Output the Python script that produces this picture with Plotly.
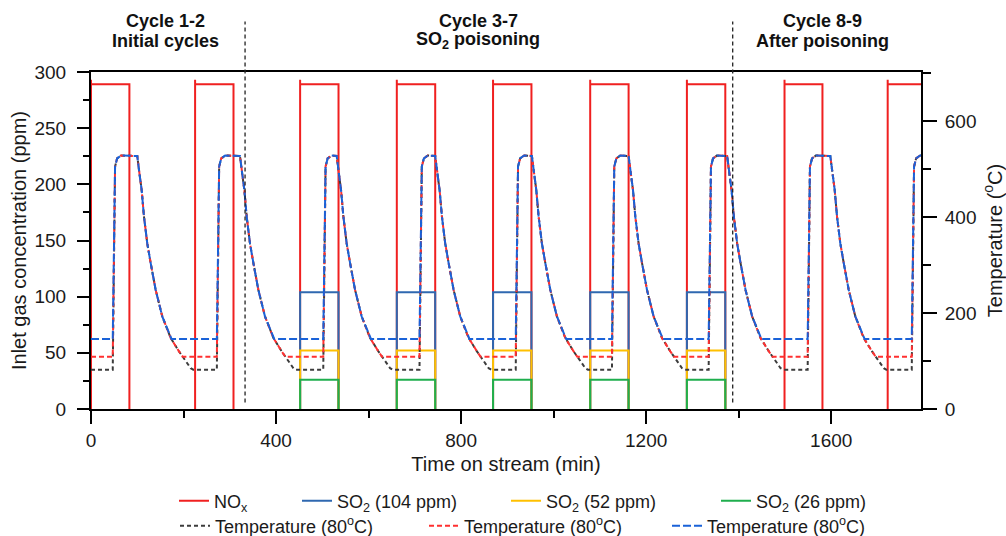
import plotly.graph_objects as go

# ---------------- data ----------------
# NOx feed (ppm): on/off times (min) of the nine cycles
nox_on = [0, 225, 452, 661, 869, 1079, 1288, 1499, 1722]
nox_off = [83, 308, 535, 744, 952, 1162, 1371, 1581, 1806]
nox_level = 289
nox_peak = 293

# SO2 feed only in cycles 3-7 (indices into the NOx cycles)
so2_cycle_idx = [2, 3, 4, 5, 6]
so2_levels = [104, 52, 26]
so2_names = ["SO<sub>2</sub> (104 ppm)", "SO<sub>2</sub> (52 ppm)", "SO<sub>2</sub> (26 ppm)"]

# Temperature programme (deg C)
temp_rise_start = [47, 272, 502, 710, 918, 1126, 1335, 1549, 1774]
temp_decay_start = [100, 322, 531, 744, 953, 1162, 1375, 1598, None]
rise_dt = [5, 9.5, 18]
rise_T = [505, 522, 528]
decay_dt = [0, 3.7, 9.5, 14.5, 21.6, 29, 39.8, 54, 72.2, 90.2, 97.3, 115.5]
decay_T = [527, 498, 456, 401, 345, 304, 248, 193, 148, 120, 110, 85]
temp_lows = [82, 109, 146]          # black, red, blue series
temp_reach = [121, 98, 74]          # min after decay start when the low is reached
time_end = 1800

# separators and section labels
sep_times = [333, 1387]
section_x = [162, 837, 1582]
section_line1 = ["Cycle 1-2", "Cycle 3-7", "Cycle 8-9"]
section_line2 = ["Initial cycles", "SO<sub>2</sub> poisoning", "After poisoning"]

x_range = [0, 1794]
y_range = [0, 300]
y2_range = [0, 702]

# ---------------- build series ----------------
def step_series(idx, level, peak=None):
    xs, ys = [], []
    for i in idx:
        a, b = nox_on[i], nox_off[i]
        xs += [a, a]
        ys += [0, peak if peak is not None else level]
        if peak is not None:
            xs.append(a); ys.append(level)
        xs += [b, b, None]
        ys += [level, 0, None]
    return xs, ys


def temp_series(low, reach):
    xs, ys = [0], [low]
    for r, d in zip(temp_rise_start, temp_decay_start):
        xs.append(r); ys.append(low)
        for dt, T in zip(rise_dt, rise_T):
            xs.append(r + dt); ys.append(T)
        if d is None:
            xs.append(time_end); ys.append(rise_T[-1])
            continue
        for dt, T in zip(decay_dt, decay_T):
            if T > low:
                xs.append(d + dt); ys.append(T)
        xs.append(d + reach); ys.append(low)
    return xs, ys


FONT = "Liberation Sans, Arial, sans-serif"
fig = go.Figure()

nx, ny = step_series(range(len(nox_on)), nox_level, nox_peak)
fig.add_trace(go.Scatter(x=nx, y=ny, mode="lines", name="NO<sub>x</sub>",
                         line=dict(color="#F02020", width=2), legend="legend",
                         showlegend=True, connectgaps=False))

so2_colors = ["#2F68B0", "#FFC000", "#1FAE4E"]
for k, (lvl, nm, col) in enumerate(zip(so2_levels, so2_names, so2_colors)):
    sx, sy = step_series(so2_cycle_idx, lvl)
    fig.add_trace(go.Scatter(x=sx, y=sy, mode="lines", name=nm, showlegend=True,
                             line=dict(color=col, width=2), legend="legend%d" % (k + 2)))

temp_colors = ["#3C3C3C", "#FF3030", "#1A62D8"]
temp_dash = ["4px,3px", "5px,3px", "8px,3px"]
for k, (low, reach, col, dsh) in enumerate(zip(temp_lows, temp_reach, temp_colors, temp_dash)):
    tx, ty = temp_series(low, reach)
    fig.add_trace(go.Scatter(x=tx, y=ty, mode="lines", yaxis="y2", showlegend=True,
                             name="Temperature (80<sup>o</sup>C)",
                             line=dict(color=col, width=2, dash=dsh),
                             legend="legend%d" % (k + 5)))

# separators
for t in sep_times:
    fig.add_shape(type="line", xref="x", yref="paper", x0=t, x1=t, y0=0.019, y1=1.15,
                  line=dict(color="#222", width=1.3, dash="4px,3px"))

for xs_, l1, l2 in zip(section_x, section_line1, section_line2):
    fig.add_annotation(x=xs_, xref="x", yref="paper", y=1.152, yanchor="middle",
                       text="<b>%s</b>" % l1,
                       showarrow=False, font=dict(family=FONT, size=18, color="#111"))
    fig.add_annotation(x=xs_, xref="x", yref="paper", y=1.093, yanchor="middle",
                       text="<b>%s</b>" % l2,
                       showarrow=False, font=dict(family=FONT, size=18, color="#111"))

axis_common = dict(showgrid=False, zeroline=False, showline=True, linecolor="black",
                   linewidth=2, ticks="outside", tickcolor="black", tickwidth=2,
                   automargin=False,
                   tickfont=dict(family=FONT, size=19, color="#1a1a1a"))

fig.update_layout(
    width=1006, height=536,
    margin=dict(l=91, r=85, t=72, b=127, autoexpand=False),
    plot_bgcolor="white", paper_bgcolor="white",
    showlegend=True,
    font=dict(family=FONT, size=18, color="#1a1a1a"),
    xaxis=dict(range=x_range, dtick=400, tick0=0, ticklen=13, mirror=True,
               minor=dict(dtick=200, ticklen=7, tickwidth=2, tickcolor="black", ticks="outside"),
               title=dict(text="Time on stream (min)", font=dict(family=FONT, size=20), standoff=7),
               **axis_common),
    yaxis=dict(range=y_range, dtick=50, ticklen=12, ticklabelstandoff=7,
               minor=dict(dtick=25, ticklen=6, tickwidth=2, tickcolor="black", ticks="outside"),
               title=dict(text="Inlet gas concentration (ppm)", font=dict(family=FONT, size=20), standoff=2),
               **axis_common),
    yaxis2=dict(range=y2_range, dtick=200, ticklen=14, overlaying="y", side="right",
                ticklabelstandoff=4,
                minor=dict(dtick=100, ticklen=8, tickwidth=2, tickcolor="black", ticks="outside"),
                title=dict(text="Temperature (<sup>o</sup>C)", font=dict(family=FONT, size=20), standoff=12),
                **axis_common),
)

# legends: one per entry to reproduce the two staggered rows
legend_text_x = [215, 338, 547, 757, 216, 465, 708]
legend_row_y = [501, 501, 501, 501, 526, 526, 526]
for k, (tx_, ty_) in enumerate(zip(legend_text_x, legend_row_y)):
    key = "legend" if k == 0 else "legend%d" % (k + 1)
    fig.update_layout({key: dict(xref="container", yref="container", visible=True,
                                 x=(tx_ - 41) / 1006, y=1 - ty_ / 536,
                                 xanchor="left", yanchor="middle",
                                 orientation="h", bgcolor="rgba(0,0,0,0)",
                                 font=dict(family=FONT, size=18, color="#1a1a1a"),
                                 itemwidth=30)})

fig.write_html("out.html", config={"displayModeBar": False},
               post_script="document.body.style.margin='0';document.body.style.padding='0';")
